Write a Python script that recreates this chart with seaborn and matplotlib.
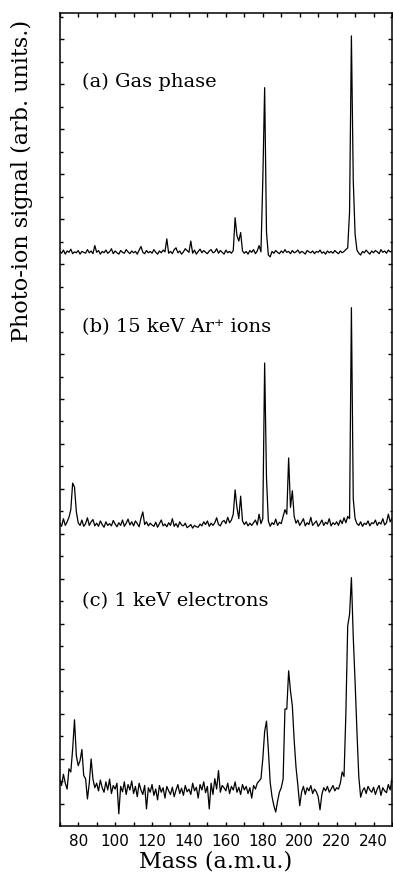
"""Photo-ion mass spectra: gas phase, Ar+ ion and electron desorption."""

import numpy as np
import pandas as pd
import seaborn as sns
import matplotlib

matplotlib.use("Agg")
import matplotlib.pyplot as plt
from matplotlib.ticker import FixedLocator, MultipleLocator

# mass axis, 1 a.m.u. steps
mass = np.arange(70, 251)

# (a) gas phase, signal in arb. units
gas_phase = [
    0.82, 0.78, 0.85, 0.76, 0.83, 0.80, 0.87, 0.77, 0.81, 0.79,
    0.84, 0.76, 0.82, 0.80, 0.78, 0.86, 0.79, 0.83, 0.77, 0.95,
    0.80, 0.84, 0.76, 0.82, 0.79, 0.85, 0.78, 0.81, 0.88, 0.77,
    0.83, 0.79, 0.76, 0.84, 0.80, 0.78, 0.86, 0.81, 0.77, 0.83,
    0.79, 0.82, 0.76, 0.85, 0.93, 0.80, 0.77, 0.84, 0.79, 0.82,
    0.78, 0.86, 0.80, 0.76, 0.83, 0.79, 0.85, 0.81, 1.10, 0.78,
    0.82, 0.77, 0.86, 0.90, 0.79, 0.83, 0.76, 0.81, 0.88, 0.84,
    0.80, 1.05, 0.78, 0.85, 0.76, 0.82, 0.87, 0.79, 0.84, 0.80,
    0.77, 0.83, 0.86, 0.79, 0.81, 0.88, 0.78, 0.84, 0.80, 0.76,
    0.85, 0.79, 0.82, 0.78, 0.84, 1.57, 1.17, 1.05, 1.24, 0.83,
    0.78, 0.82, 0.76, 0.84, 0.80, 0.86, 0.77, 0.83, 0.95, 0.81,
    2.40, 4.46, 1.25, 0.74, 0.70, 0.82, 0.78, 0.84, 0.80, 0.77,
    0.83, 0.79, 0.86, 0.80, 0.82, 0.77, 0.84, 0.79, 0.81, 0.85,
    0.78, 0.82, 0.80, 0.76, 0.84, 0.81, 0.79, 0.83, 0.77, 0.82,
    0.80, 0.85, 0.78, 0.81, 0.76, 0.83, 0.79, 0.82, 0.78, 0.84,
    0.80, 0.77, 0.83, 0.79, 0.82, 0.86, 0.90, 1.70, 5.61, 2.40,
    1.20, 0.85, 0.78, 0.74, 0.82, 0.79, 0.85, 0.80, 0.76, 0.83,
    0.79, 0.84, 0.81, 0.77, 0.86, 0.80, 0.83, 0.78, 0.85, 0.81,
    0.82,
]

# (b) 15 keV Ar+ ions
ar_ions = [
    0.85, 0.78, 0.95, 0.80, 0.88, 0.98, 1.15, 1.74, 1.65, 1.10,
    0.86, 0.80, 0.92, 0.78, 0.84, 0.97, 0.80, 0.88, 0.93, 0.79,
    0.85, 0.78, 0.90, 0.82, 0.76, 0.88, 0.80, 0.84, 0.79, 0.91,
    0.83, 0.77, 0.86, 0.80, 0.92, 0.78, 0.85, 0.94, 0.81, 0.88,
    0.79, 0.90, 0.84, 0.77, 0.96, 1.10, 0.82, 0.88, 0.79, 0.85,
    0.81, 0.78, 0.87, 0.76, 0.84, 0.92, 0.79, 0.83, 0.77, 0.86,
    0.80, 0.95, 0.78, 0.84, 0.76, 0.88, 0.81, 0.79, 0.85, 0.75,
    0.78, 0.82, 0.74, 0.80, 0.77, 0.76, 0.83, 0.79, 0.88, 0.82,
    0.90, 0.78, 0.85, 0.80, 0.86, 0.97, 0.82, 0.79, 0.88, 0.91,
    0.84, 0.98, 0.86, 0.92, 1.05, 1.59, 1.20, 0.95, 1.45, 0.90,
    0.82, 0.88, 0.79, 0.85, 0.80, 0.86, 0.92, 0.81, 1.05, 0.84,
    0.95, 4.41, 1.85, 0.90, 0.78, 0.86, 0.82, 0.94, 0.80, 0.87,
    0.84, 1.00, 1.15, 1.05, 2.30, 1.20, 1.57, 1.00, 0.85, 0.92,
    0.80, 0.87, 0.95, 0.79, 0.86, 0.82, 0.98, 0.80, 0.85, 0.90,
    0.78, 0.84, 0.92, 0.80, 0.87, 0.83, 0.95, 0.79, 0.86, 0.82,
    0.88, 0.80, 0.92, 0.84, 0.97, 0.86, 1.00, 0.95, 5.64, 1.39,
    0.95, 0.84, 0.80, 0.88, 0.78, 0.85, 0.82, 0.90, 0.79, 0.86,
    0.84, 0.92, 0.80, 0.87, 0.83, 0.95, 0.81, 0.86, 1.05, 0.88,
    0.96,
]

# (c) 1 keV electrons
electrons = [
    1.04, 0.90, 1.15, 0.95, 0.82, 1.27, 1.20, 1.71, 2.36, 1.56,
    1.34, 1.45, 1.70, 1.12, 1.05, 0.60, 0.95, 1.49, 1.04, 0.85,
    0.95, 0.78, 1.02, 0.85, 0.75, 0.98, 0.80, 1.04, 0.72, 0.90,
    0.82, 0.95, 0.27, 0.88, 0.76, 0.98, 0.70, 0.92, 0.80, 1.00,
    0.72, 0.88, 0.65, 0.95, 0.80, 0.70, 0.90, 0.38, 0.85, 0.75,
    0.92, 0.68, 0.82, 0.58, 0.90, 0.75, 0.85, 0.62, 0.88, 0.78,
    0.70, 0.86, 0.65, 0.80, 0.92, 0.72, 0.84, 0.68, 0.90, 0.76,
    0.82, 0.70, 0.95, 0.78, 0.86, 0.62, 0.92, 0.80, 0.98, 0.74,
    0.88, 0.38, 0.95, 0.70, 1.05, 0.82, 1.23, 0.75, 0.90, 0.85,
    0.78, 0.95, 0.72, 0.88, 0.80, 0.98, 0.75, 0.86, 0.70, 0.92,
    0.80, 0.88, 0.72, 0.85, 0.62, 0.90, 0.82, 0.95, 1.00, 1.05,
    1.49, 2.10, 2.33, 1.70, 0.97, 0.65, 0.45, 0.31, 0.55, 0.75,
    0.85, 1.04, 2.60, 2.60, 3.45, 3.00, 2.67, 1.90, 1.30, 0.90,
    0.45, 0.75, 0.88, 0.70, 0.85, 0.78, 0.90, 0.72, 0.82, 0.76,
    0.65, 0.36, 0.70, 0.85, 0.78, 0.88, 0.75, 0.82, 0.90, 0.78,
    0.85, 0.82, 0.95, 1.20, 1.10, 2.50, 4.45, 4.70, 5.52, 4.20,
    3.20, 2.10, 1.10, 0.64, 0.78, 0.85, 0.72, 0.88, 0.80, 0.75,
    0.86, 0.70, 0.82, 0.90, 0.68, 0.85, 0.78, 0.74, 0.92, 0.80,
    1.05,
]

panel_labels = ["(a) Gas phase", "(b) 15 keV Ar\u207a ions", "(c) 1 keV electrons"]
panel_offsets = [11.95, 5.88, 0.0]
label_y = [16.44, 11.0, 4.91]

sns.set_style("ticks")
plt.rcParams["font.family"] = ["DejaVu Serif"]
plt.rcParams["text.color"] = "black"
plt.rcParams["xtick.color"] = "black"
plt.rcParams["ytick.color"] = "black"
plt.rcParams["axes.edgecolor"] = "black"

fig = plt.figure(figsize=(3.93, 8.79), dpi=100)
ax = fig.add_axes([0.152, 0.0592, 0.8455, 0.9249])

for trace, offset in zip([gas_phase, ar_ions, electrons], panel_offsets):
    df = pd.DataFrame({"mass": mass, "signal": np.array(trace) + offset})
    sns.lineplot(data=df, x="mass", y="signal", ax=ax, color="black",
                 linewidth=0.9, estimator=None, sort=False)

for text, y in zip(panel_labels, label_y):
    ax.text(82.0, y, text, fontsize=14, va="baseline", ha="left", color="black")

ax.set_xlim(70, 250)
ax.set_ylim(0, 18.07)
ax.set_xlabel("")
ax.set_ylabel("")

ax.xaxis.set_major_locator(FixedLocator(np.arange(80, 241, 20)))
ax.xaxis.set_minor_locator(MultipleLocator(10))
ax.yaxis.set_major_locator(FixedLocator(0.49 + np.arange(0, 18)))
ax.yaxis.set_minor_locator(FixedLocator(0.99 + np.arange(0, 18)))
ax.set_yticklabels([])
ax.tick_params(which="both", direction="in", top=True, right=True, width=1.0,
               colors="black")
ax.tick_params(axis="x", which="both", length=3)
ax.tick_params(axis="y", which="major", length=3)
ax.tick_params(axis="y", which="minor", length=1.8)
ax.tick_params(axis="x", which="major", pad=5, labelsize=11, labelcolor="black")
for lab in ax.get_xticklabels():
    lab.set_fontfamily("DejaVu Sans")
for sp in ax.spines.values():
    sp.set_linewidth(1.1)
    sp.set_color("black")

fig.text(215.5 / 393, 1 - 862 / 879, "Mass (a.m.u.)", fontsize=16,
         ha="center", va="center", color="black")
fig.text(22 / 393, 1 - 181 / 879, "Photo-ion signal (arb. units.)",
         fontsize=16, rotation=90, ha="center", va="center", color="black")

fig.savefig("out.png", dpi=100)
